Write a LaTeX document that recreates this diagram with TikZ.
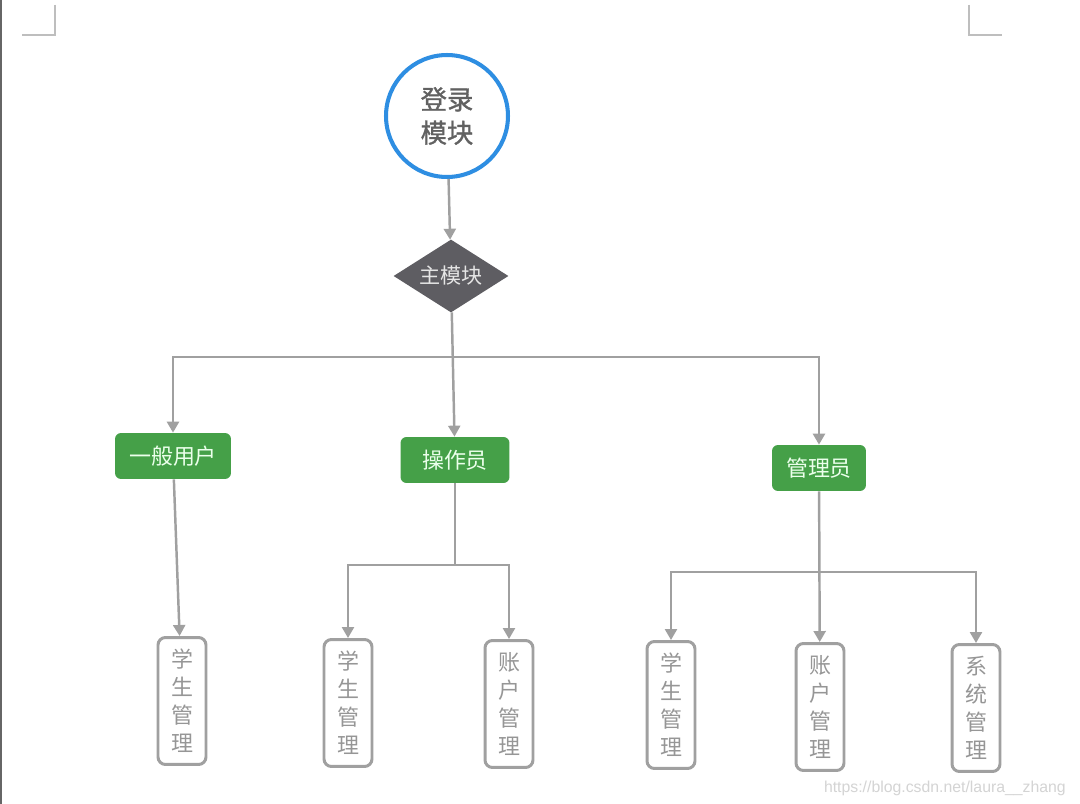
\documentclass[tikz,border=0pt]{standalone}
\usepackage{fontspec}
\usepackage{xcolor}
\newfontfamily\cjk{Noto Sans CJK SC}
\newfontfamily\cjkheavy[FakeBold=1.2]{Noto Sans CJK SC}
\newfontfamily\latin{Liberation Sans}
\definecolor{ringblue}{RGB}{46,142,226}
\definecolor{diamondgray}{RGB}{94,93,98}
\definecolor{boxgreen}{RGB}{69,160,72}
\definecolor{wiregray}{RGB}{160,160,160}
\definecolor{textgray}{RGB}{150,150,150}
\definecolor{markgray}{RGB}{190,190,190}
\usetikzlibrary{shapes.geometric}
\usetikzlibrary{arrows.meta}
\usetikzlibrary{positioning}

\tikzset{
  wire/.style={draw=wiregray, line width=1.4pt},
  arrow/.style={wire, -{Triangle[length=0.22cm,width=0.24cm]}},
  login/.style={circle, draw=ringblue, line width=2.3pt, fill=white, minimum size=2.44cm,
    inner sep=0pt, align=center, text=black!62, font=\cjkheavy\fontsize{15}{19}\selectfont},
  mainmod/.style={diamond, shape aspect=1.6, fill=diamondgray, minimum width=2.3cm, minimum height=1.46cm,
    inner sep=0pt, text=white!90!black, font=\cjk\fontsize{12}{14}\selectfont},
  role/.style={rectangle, rounded corners=0.12cm, fill=boxgreen, minimum height=0.92cm,
    inner sep=0pt, text=green!8!white, font=\cjk\fontsize{12.5}{14}\selectfont},
  task/.style={rectangle, rounded corners=0.15cm, draw=wiregray, line width=1.7pt, fill=white,
    minimum width=0.96cm, minimum height=2.54cm, inner sep=0pt, align=center,
    text=textgray, font=\cjk\fontsize{12.5}{16}\selectfont},
}

\begin{document}
\begin{tikzpicture}[x=0.02cm, y=-0.02cm]

  % page
  \useasboundingbox (0,0) rectangle (1080,804);
  \fill[white] (0,0) rectangle (1080,804);
  \draw[black!60, line width=1.2pt] (1,0) -- (1,804);
  \draw[markgray, line width=0.8pt] (55,5) -- (55,35) -- (22,35);
  \draw[markgray, line width=0.8pt] (969,5) -- (969,35) -- (1002,35);

  % top
  \node[login] (login) at (447,116) {登录\\模块};
  \node[mainmod] (main) at (451,276) {主模块};

  % roles
  \node[role, minimum width=2.32cm] (user) at (173,456) {一般用户};
  \node[role, minimum width=2.18cm] (oper) at (455,460) {操作员};
  \node[role, minimum width=1.88cm] (admin) at (819,468) {管理员};

  % tasks
  \node[task] (userstu) at (182,701) {学\\生\\管\\理};
  \node[task] (operstu) at (348,703) {学\\生\\管\\理};
  \node[task] (operacc) at (509,704) {账\\户\\管\\理};
  \node[task] (adminstu) at (671,705) {学\\生\\管\\理};
  \node[task] (adminacc) at (820,707) {账\\户\\管\\理};
  \node[task] (adminsys) at (976,708) {系\\统\\管\\理};

  \coordinate (split) at (453,357);
  \coordinate (opersplit) at (455,565);
  \coordinate (adminsplit) at (820,572);

  % connectors
  \draw[arrow] (login) -- (main);
  \draw[arrow] (main) -- (oper);
  \draw[arrow] (split) -| (user);
  \draw[arrow] (split) -| (admin);

  \draw[arrow] (user) -- (userstu);
  \draw[wire] (oper) -- (opersplit);
  \draw[arrow] (opersplit) -| (operstu);
  \draw[arrow] (opersplit) -| (operacc);
  \draw[arrow] (admin) -- (adminacc);
  \draw[arrow] (adminsplit) -| (adminstu);
  \draw[arrow] (adminsplit) -| (adminsys);

  % watermark
  \node[anchor=east, text=black!17, font=\latin\fontsize{9}{11}\selectfont] (mark) at (1072,788) {https://blog.csdn.net/laura\_\_zhang};

\end{tikzpicture}
\end{document}
